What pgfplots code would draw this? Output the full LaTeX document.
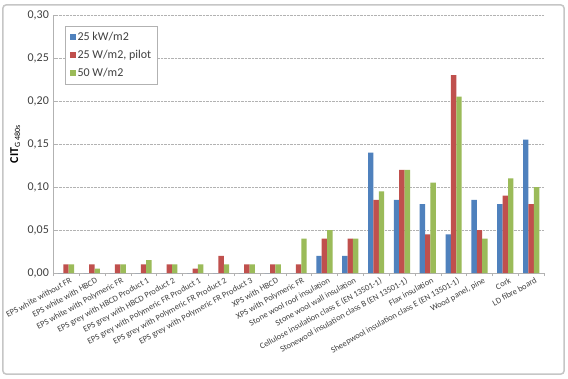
\documentclass[border=0pt]{standalone}
\usepackage{pgfplots}
\pgfplotsset{compat=1.18}
\usepackage{fontspec}
\setmainfont{Carlito}
\definecolor{xblue}{HTML}{4F81BD}
\definecolor{xred}{HTML}{C0504D}
\definecolor{xgreen}{HTML}{9BBB59}
\definecolor{txt}{HTML}{404040}
\begin{document}
\begin{tikzpicture}
\fill[white] (-66pt,-105pt) rectangle (502pt,273pt);
\draw[gray!45, line width=1.5pt, rounded corners=3pt] (-63pt,-101pt) rectangle (498pt,268pt);
\begin{axis}[
  anchor=origin, at={(0pt,0pt)},
  scale only axis, width=491pt, height=258pt,
  ybar=0pt, bar width=5.4pt,
  ymin=0, ymax=0.30, ytick={0,0.05,...,0.301},
  xmin=-0.5, xmax=18.5,
  xtick={0,...,18},
  xticklabels={EPS white without FR, EPS white with HBCD, EPS white with Polymeric FR, EPS grey with HBCD Product 1, EPS grey with HBCD Product 2, EPS grey with Polymeric FR Product 1, EPS grey with Polymeric FR Product 2, EPS grey with Polymeric FR Product 3, XPS with HBCD, XPS with Polymeric FR, Stone wool roof insulation, Stone wool wall insulation, Cellulose insulation class E (EN 13501-1), Stonewool insulation class B (EN 13501-1), Flax insulation, Sheepwool insulation class E (EN 13501-1), {Wood panel, pine}, Cork, LD fibre board},
  x tick label style={rotate=29, anchor=north east, font=\fontsize{8.5}{9}\selectfont, text=txt, inner sep=0.5pt, xshift=3pt, yshift=-2pt},
  major x tick style={draw=none},
  minor xtick={-0.5,0.5,...,18.5},
  minor x tick style={draw=gray!60},
  minor tick length=3pt,
  xtick pos=bottom, ytick pos=left,
  y tick style={draw=gray!60}, major tick length=3pt,
  yticklabel style={/pgf/number format/.cd, fixed, fixed zerofill, precision=2, use comma, /tikz/.cd, font=\fontsize{12}{13}\selectfont, text=txt, inner sep=4pt},
  /pgf/number format/assume math mode=true,
  ymajorgrids, grid style={densely dotted, gray!60},
  axis line style={gray!60},
  axis x line*=bottom, axis y line*=left,
  ylabel={\textbf{CIT}\textsubscript{\fontsize{8}{9}\selectfont G 480s}},
  ylabel style={font=\fontsize{12}{13}\selectfont, text=black},
  legend style={at={(axis description cs:0.025,0.957)}, anchor=north west, draw=gray!60, font=\fontsize{12}{13}\selectfont, text=txt, row sep=4pt, inner xsep=4pt, inner ysep=4pt},
  legend image code/.code={\fill[#1] (0pt,-3pt) rectangle (6pt,3pt);},
  legend cell align=left,
]
\addplot[fill=xblue, draw=none] coordinates {(0,0) (1,0) (2,0) (3,0) (4,0) (5,0) (6,0) (7,0) (8,0) (9,0) (10,0.02) (11,0.02) (12,0.14) (13,0.085) (14,0.08) (15,0.045) (16,0.085) (17,0.08) (18,0.155)};
\addplot[fill=xred, draw=none] coordinates {(0,0.01) (1,0.01) (2,0.01) (3,0.01) (4,0.01) (5,0.005) (6,0.02) (7,0.01) (8,0.01) (9,0.01) (10,0.04) (11,0.04) (12,0.085) (13,0.12) (14,0.045) (15,0.23) (16,0.05) (17,0.09) (18,0.08)};
\addplot[fill=xgreen, draw=none] coordinates {(0,0.01) (1,0.005) (2,0.01) (3,0.015) (4,0.01) (5,0.01) (6,0.01) (7,0.01) (8,0.01) (9,0.04) (10,0.05) (11,0.04) (12,0.095) (13,0.12) (14,0.105) (15,0.205) (16,0.04) (17,0.11) (18,0.10)};
\legend{25 kW/m2, {25 W/m2, pilot}, 50 W/m2}
\end{axis}
\pgfresetboundingbox
\useasboundingbox (-66pt,-105pt) rectangle (502pt,273pt);
\end{tikzpicture}
\end{document}
